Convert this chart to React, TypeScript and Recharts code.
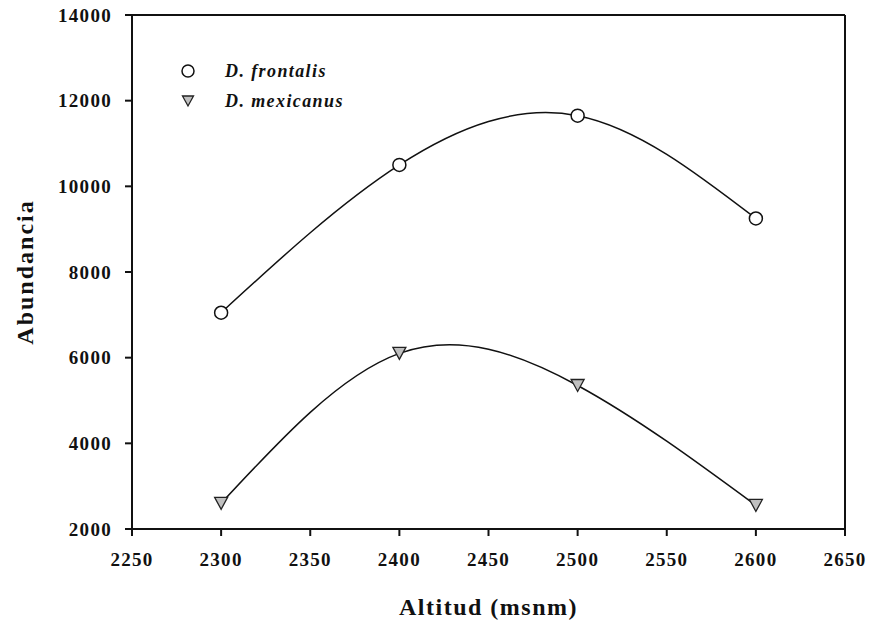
import React from 'react';
import { LineChart, Line, XAxis, YAxis, ReferenceLine, Legend } from 'recharts';

// altitude (msnm) of each sampling site
const altitudes = [2300, 2400, 2500, 2600];
const seriesNames = ['D. frontalis', 'D. mexicanus'];
const frontalis = [7050, 10500, 11650, 9250];
const mexicanus = [2600, 6100, 5350, 2550];

const xTicks = [2250, 2300, 2350, 2400, 2450, 2500, 2550, 2600, 2650];
const yTicks = [2000, 4000, 6000, 8000, 10000, 12000, 14000];

const data = altitudes.map((a, i) => ({
  altitud: a,
  frontalis: frontalis[i],
  mexicanus: mexicanus[i],
}));

const FONT = '"Liberation Serif", "Times New Roman", serif';
const INK = '#111';

const tickStyle = {
  fill: INK,
  fontSize: 19,
  fontWeight: 'bold',
  fontFamily: FONT,
  letterSpacing: 1.3,
};

const CircleDot = (props: any) => {
  const { cx, cy } = props;
  if (cx == null || cy == null) return null;
  return <circle cx={cx} cy={cy} r={6.5} fill="#fff" stroke={INK} strokeWidth={1.5} />;
};

const TriangleDot = (props: any) => {
  const { cx, cy } = props;
  if (cx == null || cy == null) return null;
  return (
    <path
      d={`M${cx - 6.5},${cy - 6} L${cx + 6.5},${cy - 6} L${cx},${cy + 6} Z`}
      fill="#c0c0c0"
      stroke="#222"
      strokeWidth={1.3}
    />
  );
};

const legendIcons = [
  <circle key="c" cx={8} cy={8} r={6} fill="#fff" stroke={INK} strokeWidth={1.5} />,
  <path key="t" d="M2.5,3 L13.5,3 L8,13 Z" fill="#c0c0c0" stroke="#222" strokeWidth={1.3} />,
];

const LegendContent = () => (
  <div
    style={{
      fontFamily: FONT,
      fontWeight: 'bold',
      fontStyle: 'italic',
      fontSize: 18,
      letterSpacing: 1.4,
      color: INK,
    }}
  >
    {seriesNames.map((name, i) => (
      <div key={name} style={{ display: 'flex', alignItems: 'center', height: 30 }}>
        <svg width={16} height={16}>{legendIcons[i]}</svg>
        <span style={{ marginLeft: 29 }}>{name}</span>
      </div>
    ))}
  </div>
);

const YTitle = (props: any) => {
  const vb = props.viewBox;
  const x = vb.x + 33;
  const y = vb.y + vb.height / 2;
  return (
    <text
      x={x}
      y={y}
      transform={`rotate(-90 ${x} ${y})`}
      textAnchor="middle"
      fill={INK}
      fontFamily={FONT}
      fontWeight="bold"
      fontSize={24}
      letterSpacing={2}
    >
      Abundancia
    </text>
  );
};

const XTitle = (props: any) => {
  const vb = props.viewBox;
  return (
    <text
      x={vb.x + vb.width / 2}
      y={vb.y + 86}
      textAnchor="middle"
      fill={INK}
      fontFamily={FONT}
      fontWeight="bold"
      fontSize={24}
      letterSpacing={1.5}
    >
      Altitud (msnm)
    </text>
  );
};

export default function App() {
  return (
    <div style={{ position: 'absolute', left: 0, top: 0, background: '#fff' }}>
      <LineChart width={869} height={622} data={data} margin={{ top: 15, right: 24, bottom: 0, left: 0 }}>
        <XAxis
          dataKey="altitud"
          type="number"
          domain={[2250, 2650]}
          ticks={xTicks}
          height={93}
          tickSize={7}
          tickMargin={17}
          tick={tickStyle}
          axisLine={{ stroke: INK, strokeWidth: 2 }}
          tickLine={{ stroke: INK, strokeWidth: 2 }}
          label={{ content: XTitle }}
        />
        <YAxis
          type="number"
          domain={[2000, 14000]}
          ticks={yTicks}
          width={132}
          tickSize={7}
          tickMargin={13}
          tick={tickStyle}
          axisLine={{ stroke: INK, strokeWidth: 2 }}
          tickLine={{ stroke: INK, strokeWidth: 2 }}
          label={{ content: YTitle }}
        />
        <ReferenceLine y={14000} stroke={INK} strokeWidth={2} />
        <ReferenceLine x={2650} stroke={INK} strokeWidth={2} />
        <Legend
          layout="vertical"
          align="center"
          verticalAlign="middle"
          content={LegendContent}
          wrapperStyle={{ left: 180, top: 56, width: 220, height: 60 }}
        />
        <Line
          type="natural"
          dataKey="frontalis"
          name={seriesNames[0]}
          stroke={INK}
          strokeWidth={1.5}
          dot={<CircleDot />}
          activeDot={false}
          isAnimationActive={false}
        />
        <Line
          type="natural"
          dataKey="mexicanus"
          name={seriesNames[1]}
          stroke={INK}
          strokeWidth={1.5}
          dot={<TriangleDot />}
          activeDot={false}
          isAnimationActive={false}
        />
      </LineChart>
    </div>
  );
}
